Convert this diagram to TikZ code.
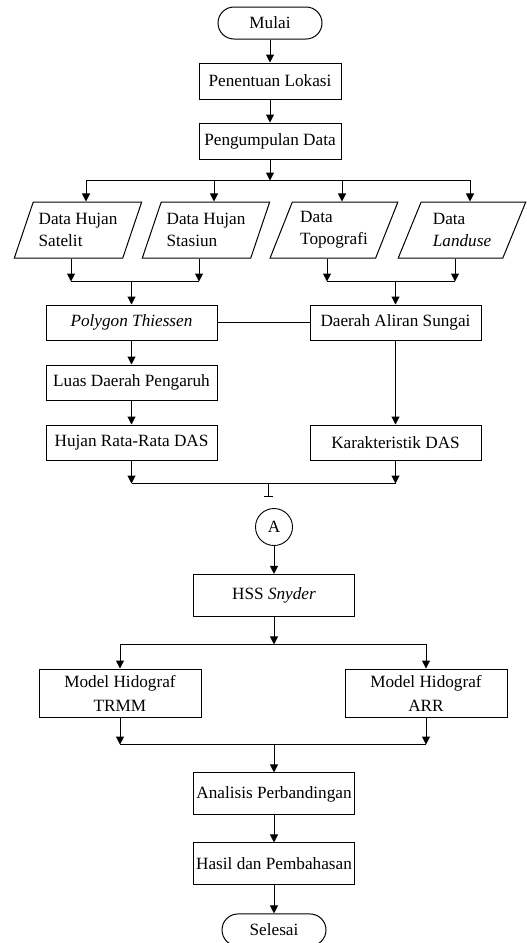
\documentclass[tikz,border=0pt]{standalone}
\usepackage{fontspec}
\setmainfont{Liberation Serif}
\usetikzlibrary{arrows.meta,positioning,shapes.geometric}

\begin{document}
\begin{tikzpicture}[node distance=11.5pt, >={Triangle[length=4pt,width=4pt]}, line width=0.5pt,
	font=\fontsize{8.6}{11}\selectfont]
	\tikzstyle{rect}=[draw, rectangle, minimum width=71pt, minimum height=18pt, inner sep=1pt, align=center]
	\tikzstyle{rect_l}=[draw, rectangle, minimum width=85.5pt, minimum height=17.5pt, inner sep=1pt, align=center]
	\tikzstyle{rect_c}=[draw, rectangle, minimum width=80.5pt, minimum height=21pt, inner sep=1pt, align=center]
	\tikzstyle{rect_m}=[draw, rectangle, minimum width=81pt, minimum height=24pt, inner sep=1pt, align=center, font=\fontsize{8.6}{12}\selectfont]
	\tikzstyle{term}=[draw, rectangle, rounded corners=8pt, minimum width=52pt, minimum height=16pt, inner sep=1pt]
	\tikzstyle{data}=[draw, trapezium, trapezium left angle=65, trapezium right angle=115, trapezium stretches=true, minimum width=64pt, minimum height=28pt, inner sep=1pt, align=left]
	\tikzstyle{conn}=[draw, circle, minimum size=18.5pt, inner sep=0pt, line width=0.45pt]

	\useasboundingbox (0pt,0pt) rectangle (263pt,-471.5pt);

	\node[term] (mulai) at (135pt,-11.5pt) {Mulai};
	\node[rect] (lokasi) [below=of mulai] {Penentuan Lokasi};
	\node[rect] (kumpul) [below=of lokasi] {Pengumpulan Data};

	\node[data] (satelit) at (39pt,-115pt) {Data Hujan\\Satelit};
	\node[data] (stasiun) at (103pt,-115pt) {Data Hujan\\Stasiun};
	\node[data] (topo) at (167pt,-115pt) {Data\\Topografi};
	\node[data] (landuse) at (231pt,-115pt) {Data\\\textit{Landuse}};

	\node[rect_l] (thiessen) at (65.75pt,-161.25pt) {\textit{Polygon Thiessen}};
	\node[rect_l] (das) [right=46pt of thiessen] {Daerah Aliran Sungai};
	\node[rect_l] (luas) [below=12pt of thiessen] {Luas Daerah Pengaruh};
	\node[rect_l] (hujan) [below=12pt of luas] {Hujan Rata-Rata DAS};
	\node[rect_l] (karakter) [right=46pt of hujan] {Karakteristik DAS};

	\node[conn] (A) at (137pt,-263.5pt) {A};
	\node[rect_c] (hss) [below=14pt of A] {HSS \textit{Snyder}};
	\node[rect_m] (trmm) at (60pt,-346.5pt) {Model Hidograf\\TRMM};
	\node[rect_m] (arr) at (213pt,-346.5pt) {Model Hidograf\\ARR};
	\node[rect_c] (banding) [below=77.75pt of hss] {Analisis Perbandingan};
	\node[rect_c] (hasil) [below=13.5pt of banding] {Hasil dan Pembahasan};
	\node[term] (selesai) [below=14pt of hasil] {Selesai};

	% alur atas
	\draw[->] (mulai) -- (lokasi);
	\draw[->] (lokasi) -- (kumpul);
	\coordinate (bus1) at ([yshift=-10.5pt]kumpul.south);
	\draw[->] (kumpul) -- (bus1);
	\draw[->] (bus1) -| ([xshift=4pt]satelit.north);
	\draw[->] (bus1) -| ([xshift=4pt]stasiun.north);
	\draw[->] (bus1) -| ([xshift=4pt]topo.north);
	\draw[->] (bus1) -| ([xshift=4pt]landuse.north);

	% data hujan
	\coordinate (bus2) at ([yshift=11.5pt]thiessen.north);
	\coordinate (sat_o) at ([xshift=-3.5pt]satelit.south);
	\coordinate (sta_o) at ([xshift=-3.5pt]stasiun.south);
	\draw[->] (sat_o) -- (sat_o |- bus2);
	\draw[->] (sta_o) -- (sta_o |- bus2);
	\draw (sat_o |- bus2) -- (sta_o |- bus2);
	\draw[->] (bus2) -- (thiessen);

	% data topografi
	\coordinate (bus3) at ([yshift=11.5pt]das.north);
	\coordinate (top_o) at ([xshift=-3.5pt]topo.south);
	\coordinate (lan_o) at ([xshift=-3.5pt]landuse.south);
	\draw[->] (top_o) -- (top_o |- bus3);
	\draw[->] (lan_o) -- (lan_o |- bus3);
	\draw (top_o |- bus3) -- (lan_o |- bus3);
	\draw[->] (bus3) -- (das);

	\draw (thiessen) -- (das);
	\draw[->] (thiessen) -- (luas);
	\draw[->] (luas) -- (hujan);
	\draw[->] (das) -- (karakter);

	% ke konektor A
	\coordinate (bus4) at ([yshift=-11.5pt]hujan.south);
	\draw[->] (hujan) -- (bus4);
	\draw[->] (karakter) -- (karakter |- bus4);
	\draw (bus4) -- (karakter |- bus4);
	\coordinate (tick) at ([xshift=-3pt,yshift=5.5pt]A.north);
	\draw[-{Bar[width=4.5pt]}] (tick |- bus4) -- (tick);

	% alur bawah
	\draw[->] (A) -- (hss);
	\coordinate (bus5) at ([yshift=-13.75pt]hss.south);
	\draw[->] (hss) -- (bus5);
	\draw[->] (bus5) -| (trmm);
	\draw[->] (bus5) -| (arr);
	\coordinate (bus6) at ([yshift=-13.5pt]trmm.south);
	\draw[->] (trmm) -- (bus6);
	\draw[->] (arr) -- (arr |- bus6);
	\draw (bus6) -- (arr |- bus6);
	\draw[->] (banding |- bus6) -- (banding);
	\draw[->] (banding) -- (hasil);
	\draw[->] (hasil) -- (selesai);
\end{tikzpicture}
\end{document}
